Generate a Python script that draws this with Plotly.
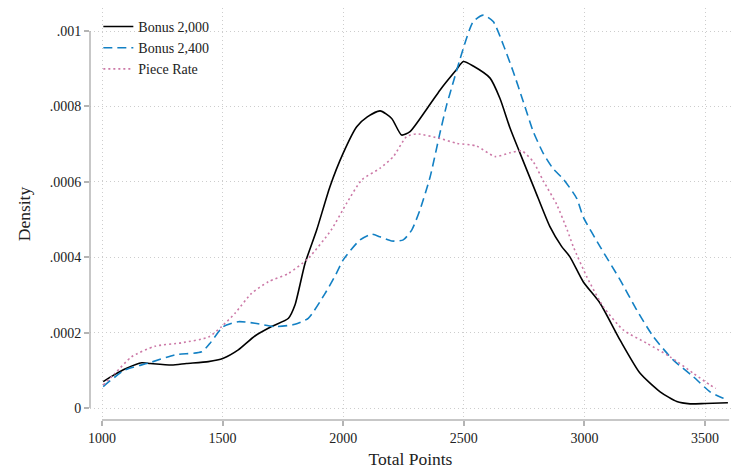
import plotly.graph_objects as go

# Bonus 2,000 (density in units of 1e-4)
b2000_x = [1005, 1050, 1100, 1165, 1200, 1289, 1350, 1441, 1503, 1565, 1634, 1703, 1773, 1800,
           1842, 1890, 1945, 2000, 2056, 2100, 2153, 2201, 2242, 2277, 2353, 2401, 2429, 2470,
           2498, 2539, 2609, 2650, 2692, 2733, 2795, 2857, 2906, 2940, 2995, 3065, 3148, 3231,
           3314, 3383, 3438, 3500, 3595]
b2000_y = [0.70, 0.88, 1.05, 1.20, 1.18, 1.14, 1.18, 1.23, 1.32, 1.54, 1.91, 2.16, 2.38, 2.73,
           3.84, 4.72, 5.87, 6.76, 7.46, 7.72, 7.88, 7.68, 7.24, 7.33, 7.99, 8.43, 8.66, 8.98,
           9.19, 9.07, 8.75, 8.21, 7.42, 6.76, 5.78, 4.81, 4.28, 4.01, 3.35, 2.78, 1.80, 0.92,
           0.43, 0.17, 0.11, 0.12, 0.14]

# Bonus 2,400
b2400_x = [1005, 1095, 1192, 1303, 1413, 1448, 1503, 1565, 1634, 1717, 1800, 1855, 1925, 1970,
           2000, 2070, 2118, 2153, 2201, 2249, 2284, 2318, 2360, 2401, 2429, 2443, 2498, 2539,
           2581, 2622, 2664, 2705, 2747, 2788, 2830, 2870, 2913, 2968, 2995, 3065, 3148, 3217,
           3286, 3369, 3452, 3521, 3576, 3595]
b2400_y = [0.57, 1.01, 1.19, 1.41, 1.49, 1.72, 2.16, 2.29, 2.25, 2.16, 2.22, 2.38, 3.04, 3.55,
           3.93, 4.46, 4.61, 4.54, 4.43, 4.46, 4.72, 5.25, 6.12, 7.29, 8.04, 8.35, 9.54, 10.25,
           10.42, 10.25, 9.63, 8.92, 8.12, 7.33, 6.75, 6.35, 6.07, 5.56, 5.07, 4.28, 3.40, 2.60,
           1.89, 1.27, 0.83, 0.43, 0.26, 0.24]

# Piece Rate
piece_x = [1005, 1054, 1123, 1220, 1330, 1441, 1496, 1551, 1620, 1690, 1773, 1855, 1950, 2014,
           2077, 2153, 2208, 2263, 2305, 2401, 2471, 2553, 2629, 2692, 2740, 2788, 2830, 2885,
           2930, 2954, 3010, 3078, 3161, 3258, 3355, 3452, 3521, 3545]
piece_y = [0.61, 0.92, 1.36, 1.64, 1.73, 1.88, 2.16, 2.51, 3.04, 3.35, 3.57, 3.97, 4.72, 5.43,
           6.05, 6.36, 6.67, 7.20, 7.27, 7.15, 7.02, 6.95, 6.67, 6.77, 6.82, 6.53, 6.02, 5.40,
           4.70, 4.28, 3.48, 2.69, 2.07, 1.72, 1.36, 0.92, 0.61, 0.52]

x_ticks = [1000, 1500, 2000, 2500, 3000, 3500]
y_ticks = [0, 0.0002, 0.0004, 0.0006, 0.0008, 0.001]
y_tick_labels = ["0", ".0002", ".0004", ".0006", ".0008", ".001"]

FONT = "Liberation Serif"
AXIS_GRAY = "#b4b4b4"
GRID = "#cdcdcd"

fig = go.Figure()
fig.add_trace(go.Scatter(x=b2000_x, y=[v * 1e-4 for v in b2000_y], mode="lines",
                         name="Bonus 2,000", line=dict(color="black", width=1.6, shape="spline", smoothing=0.6)))
fig.add_trace(go.Scatter(x=b2400_x, y=[v * 1e-4 for v in b2400_y], mode="lines",
                         name="Bonus 2,400", line=dict(color="#1380c4", width=1.6, dash="9px,5px", shape="spline", smoothing=0.6)))
fig.add_trace(go.Scatter(x=piece_x, y=[v * 1e-4 for v in piece_y], mode="lines",
                         name="Piece Rate", line=dict(color="#cc79a7", width=1.6, dash="2px,3px", shape="spline", smoothing=0.6)))

fig.update_layout(
    width=731, height=471,
    margin=dict(l=90, r=0, t=8, b=51),
    plot_bgcolor="white", paper_bgcolor="white",
    font=dict(family=FONT, size=14, color="#222222"),
    showlegend=True,
    legend=dict(x=0.013, y=0.993, xanchor="left", yanchor="top", bgcolor="rgba(0,0,0,0)",
                font=dict(family=FONT, size=14), tracegroupgap=0, itemwidth=30),
    xaxis=dict(range=[950.25, 3607.8], tickvals=x_ticks, ticktext=[str(v) for v in x_ticks],
               ticks="outside", ticklen=5, tickwidth=1.5, tickcolor=AXIS_GRAY,
               showgrid=True, gridcolor=GRID, griddash="1px,3px", gridwidth=1,
               zeroline=False, showline=False,
               title=dict(text="Total Points", font=dict(family=FONT, size=17.5), standoff=7),
               tickfont=dict(family=FONT, size=14)),
    yaxis=dict(range=[-3.18e-5, 1.061e-3], tickvals=y_ticks, ticktext=y_tick_labels,
               ticks="outside", ticklen=5, tickwidth=1.5, tickcolor=AXIS_GRAY,
               showgrid=True, gridcolor=GRID, griddash="1px,3px", gridwidth=1,
               zeroline=False, showline=False,
               title=dict(text="Density", font=dict(family=FONT, size=17.5), standoff=14),
               tickfont=dict(family=FONT, size=14)),
    shapes=[
        dict(type="line", xref="paper", yref="y", x0=0, x1=0, y0=0, y1=0.001,
             line=dict(color=AXIS_GRAY, width=1.5)),
        dict(type="line", xref="x", yref="paper", x0=1000, x1=3600, y0=0, y1=0,
             line=dict(color=AXIS_GRAY, width=1.5)),
    ],
)

fig.write_html("out.html")
